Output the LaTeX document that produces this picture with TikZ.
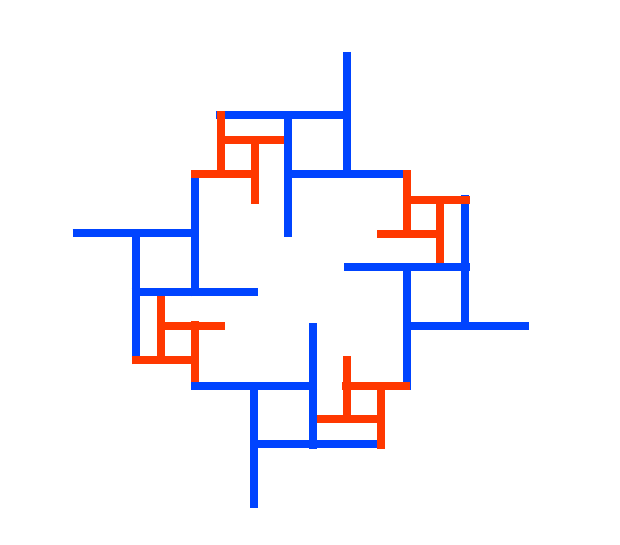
\documentclass[tikz,border=0pt]{standalone}
\usepackage{tikz}
\usepackage{xcolor}
\definecolor{blue}{HTML}{0044FF}
\definecolor{red}{HTML}{FF3800}

\begin{document}
\begin{tikzpicture}[
	x=1pt, y=1pt,
	b/.style = {draw=blue,	line width=8pt},
	r/.style = {draw=red,	line width=8pt}
	]
	\useasboundingbox (0, 0) rectangle (620, 545);
	
	%Arms, one per quarter turn: left, top, right, bottom
	\begin{scope}[shift={(300.5, 265)}]
	\foreach \a in {90, 0, -90, -180} {
	\begin{scope}[rotate=\a]
		%Blue
		\draw[b]	(46.5, 228)		--	(46.5, 102);
		\draw[b]	(-84.5, 164.5)	--	(50.5, 164.5);
		\draw[b]	(-16.5, 106)	--	(110, 106);
		\draw[b]	(-12.5, 169)	--	(-12.5, 43);
		
		%Red
		\draw[r]	(-80, 169)		--	(-80, 102);
		\draw[r]	(-80, 139.5)	--	(-16.5, 139.5);
		\draw[r]	(-46, 139.5)	--	(-46, 76);
		\draw[r]	(-109.5, 106)	--	(-41.5, 106);
	\end{scope}
	}
	\end{scope}
	
\end{tikzpicture}
\end{document}
